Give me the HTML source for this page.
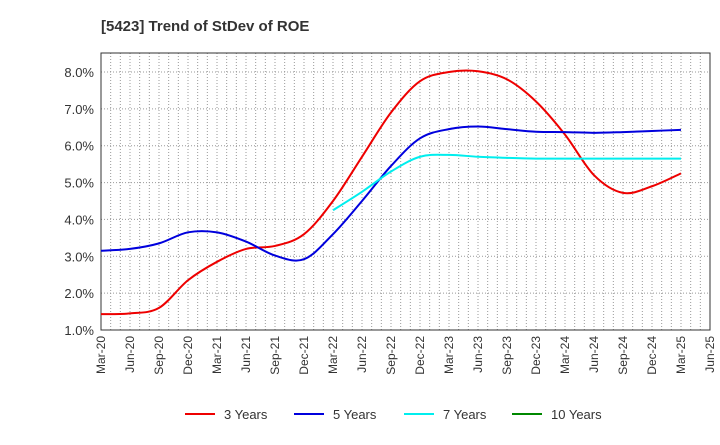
<!DOCTYPE html>
<html><head><meta charset="utf-8"><style>
body{margin:0;background:#fff;font-family:"Liberation Sans",sans-serif}
</style></head><body>
<svg id="c" width="720" height="440" xmlns="http://www.w3.org/2000/svg" font-family="Liberation Sans, sans-serif">
<text x="101" y="31" font-size="15" font-weight="bold" fill="#333">[5423]  Trend of StDev of ROE</text>
<g id="grid"></g><g id="axes"></g><g id="series"></g><g id="legend"></g>
</svg>
<script>
const xLabels=["Mar-20","Jun-20","Sep-20","Dec-20","Mar-21","Jun-21","Sep-21","Dec-21","Mar-22","Jun-22","Sep-22","Dec-22","Mar-23","Jun-23","Sep-23","Dec-23","Mar-24","Jun-24","Sep-24","Dec-24","Mar-25","Jun-25"];
const yTicks=[1,2,3,4,5,6,7,8];
const s3=[1.43,1.45,1.6,2.35,2.85,3.2,3.28,3.6,4.5,5.7,6.9,7.75,8.0,8.02,7.8,7.2,6.3,5.2,4.72,4.9,5.25];
const s5=[3.15,3.2,3.35,3.65,3.65,3.4,3.02,2.92,3.6,4.5,5.45,6.2,6.45,6.52,6.45,6.38,6.37,6.35,6.37,6.4,6.43];
const s7=[null,null,null,null,null,null,null,null,4.25,4.75,5.3,5.7,5.75,5.7,5.67,5.65,5.65,5.65,5.65,5.65,5.65];
const s10=[];
const L=101,R=710,T=53,B=330;
const xq=i=>L+i*(R-L)/21;
const y=v=>B-(v-1)*(B-72)/7;
const NS="http://www.w3.org/2000/svg";
function mk(p,t,a){const e=document.createElementNS(NS,t);for(const k in a)e.setAttribute(k,a[k]);document.getElementById(p).appendChild(e);return e;}
for(let m=1;m<63;m++){const gx=L+m*(R-L)/63;const e=mk('grid','line',{x1:gx,x2:gx,y1:T,y2:B,stroke:'#999','stroke-dasharray':'1,2','stroke-width':1});

}
yTicks.forEach(v=>{const e=mk('grid','line',{x1:L,x2:R,y1:y(v),y2:y(v),stroke:'#999','stroke-dasharray':'1,2'});


const t=mk('axes','text',{x:L-7,y:y(v)+5,'text-anchor':'end','font-size':13,fill:'#333'});t.textContent=v.toFixed(1)+'%';

});
const fr=mk('axes','rect',{x:L,y:T,width:R-L,height:B-T,fill:'none',stroke:'#333','stroke-width':1});


xLabels.forEach((lb,i)=>{const t=mk('axes','text',{transform:`translate(${xq(i)+4},${B+6}) rotate(-90)`,'text-anchor':'end','font-size':12,fill:'#333'});t.textContent=lb;

});
function path(arr){const p=[];arr.forEach((v,i)=>{if(v!=null)p.push([xq(i),y(v)]);});if(!p.length)return '';
let d=`M${p[0][0]},${p[0][1]}`;for(let i=0;i<p.length-1;i++){const p0=p[i-1]||p[i],p1=p[i],p2=p[i+1],p3=p[i+2]||p2;
d+=` C${p1[0]+(p2[0]-p0[0])/6},${p1[1]+(p2[1]-p0[1])/6} ${p2[0]-(p3[0]-p1[0])/6},${p2[1]-(p3[1]-p1[1])/6} ${p2[0]},${p2[1]}`;}return d;}
[[s3,'#ee0000','series-3-years'],[s5,'#0000dd','series-5-years'],[s7,'#00eeee','series-7-years'],[s10,'#008800','series-10-years']].forEach(([a,c,n])=>{
const d=path(a);if(!d)return;const e=mk('series','path',{d:d,fill:'none',stroke:c,'stroke-width':2});

});
[['3 Years','#ee0000',185],['5 Years','#0000dd',294],['7 Years','#00eeee',404],['10 Years','#008800',512]].forEach(([lb,c,x0])=>{
const l=mk('legend','line',{x1:x0,x2:x0+30,y1:414,y2:414,stroke:c,'stroke-width':2});


const t=mk('legend','text',{x:x0+39,y:419,'font-size':13,fill:'#333'});t.textContent=lb;

});
</script>
</body></html>
